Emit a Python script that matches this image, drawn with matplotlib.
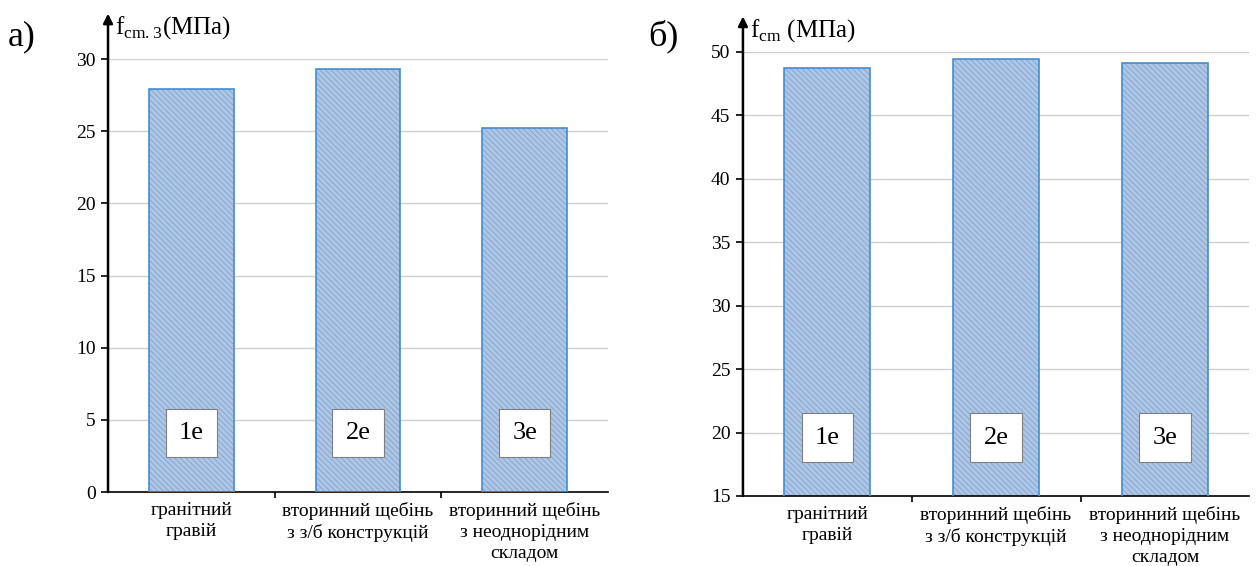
import matplotlib
matplotlib.use("Agg")
import matplotlib.pyplot as plt
import numpy as np

plt.rcParams["font.family"] = ["Liberation Serif", "DejaVu Serif"]
plt.rcParams["mathtext.fontset"] = "custom"
plt.rcParams["mathtext.rm"] = "Liberation Serif"
plt.rcParams["hatch.linewidth"] = 0.6

categories = ["гранітний\nгравій", "вторинний щебінь\nз з/б конструкцій",
              "вторинний щебінь\nз неоднорідним\nскладом"]
series_labels = ["1e", "2e", "3e"]

# а) f_cm.3, МПа
vals_a = [27.9, 29.3, 25.2]
# б) f_cm, МПа
vals_b = [48.75, 49.45, 49.15]

ticks_a = [0, 5, 10, 15, 20, 25, 30]
ticks_b = [15, 20, 25, 30, 35, 40, 45, 50]

FACE = "#adc6e6"
HATCH = "#86a3cc"
EDGE = "#438dd0"


def draw_panel(ax, vals, ticks, ylab, box_y, arrow_top):
    x = np.arange(len(vals))
    ax.bar(x, vals, width=0.51, color=FACE, edgecolor=HATCH,
           hatch="\\\\\\\\\\\\", linewidth=0, zorder=2)
    ax.bar(x, vals, width=0.51, color="none", edgecolor=EDGE,
           linewidth=1.2, zorder=3)
    ax.set_xlim(-0.5, len(vals) - 0.5)
    ax.set_ylim(ticks[0], ticks[-1])
    ax.set_yticks(ticks)
    ax.yaxis.grid(True, color="#cfcfcf", linewidth=1.0, zorder=0)
    ax.set_axisbelow(True)
    for s in ["top", "right", "left"]:
        ax.spines[s].set_visible(False)
    ax.spines["bottom"].set_linewidth(1.2)
    ax.set_xticks(x)
    ax.set_xticklabels(categories, fontsize=14, linespacing=1.3)
    ax.tick_params(axis="x", which="major", length=0, pad=7)
    ax.set_xticks(x[:-1] + 0.5, minor=True)
    ax.tick_params(axis="x", which="minor", length=4, width=1.2, direction="out")
    ax.tick_params(axis="y", length=5, width=1.2, labelsize=14, pad=4,
                   colors="black")
    # arrow-style y axis
    ax.annotate("", xy=(0, arrow_top), xytext=(0, 0), xycoords="axes fraction",
                textcoords="axes fraction",
                arrowprops=dict(arrowstyle="-|>", color="black", lw=1.8,
                                mutation_scale=14, shrinkA=0, shrinkB=0),
                annotation_clip=False)
    ax.text(0.014, arrow_top - 0.002, ylab, transform=ax.transAxes,
            fontsize=18, ha="left", va="top")
    for xi, lab in zip(x, series_labels):
        ax.text(xi, box_y, lab, ha="center", va="center", fontsize=19,
                zorder=4,
                bbox=dict(boxstyle="square,pad=0.5", fc="white",
                          ec="#7f7f7f", lw=0.8))


fig = plt.figure(figsize=(12.59, 5.66), dpi=100)
ax1 = fig.add_axes([0.0858, 0.1307, 0.3971, 0.765])
ax2 = fig.add_axes([0.5901, 0.1237, 0.4022, 0.7845])

draw_panel(ax1, vals_a, ticks_a, r"$\mathrm{f}_{\mathrm{cm.3}}$(МПа)", 4.1, 1.105)
draw_panel(ax2, vals_b, ticks_b, r"$\mathrm{f}_{\mathrm{cm}}$ (МПа)", 19.6, 1.08)

fig.text(0.006, 0.935, "а)", fontsize=26, ha="left", va="center")
fig.text(0.515, 0.935, "б)", fontsize=26, ha="left", va="center")

fig.savefig("out.png", dpi=100, facecolor="white")
